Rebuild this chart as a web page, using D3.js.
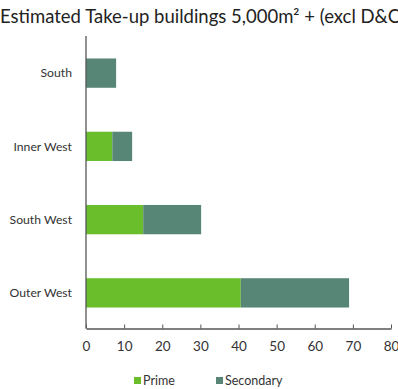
<!DOCTYPE html>
<html><head><meta charset="utf-8">
<script src="https://cdn.jsdelivr.net/npm/d3@7"></script>
<style>body{margin:0;background:#fff}svg{display:block}</style>
</head><body>
<script>
const title = "Estimated Take-up buildings 5,000m² + (excl D&C)";
const categories = ["South", "Inner West", "South West", "Outer West"];
const seriesNames = ["Prime", "Secondary"];
const prime = [0, 6.9, 15.0, 40.6];
const secondary = [7.9, 5.2, 15.2, 28.4];
const xTicks = [0, 10, 20, 30, 40, 50, 60, 70, 80];
const colors = ["#6abd2b", "#588676"];

const W = 398, H = 389;
const font = "Lato, sans-serif";
const svg = d3.select("body").append("svg").attr("width", W).attr("height", H);

svg.append("text").attr("x", 0).attr("y", 23)
  .attr("font-family", font).attr("font-size", 18.5).attr("fill", "#222")
  .text(title);

const x = d3.scaleLinear().domain([0, 80]).range([86, 391]);
const y = d3.scaleBand().domain(categories).range([36.5, 329.5]).paddingInner(0.6).paddingOuter(0.3);

const data = categories.map((c, i) => ({cat: c, Prime: prime[i], Secondary: secondary[i]}));
const stack = d3.stack().keys(seriesNames)(data);

svg.selectAll("g.s").data(stack).join("g").attr("fill", (d, i) => colors[i])
  .selectAll("rect").data(d => d).join("rect")
  .attr("x", d => x(d[0])).attr("width", d => x(d[1]) - x(d[0]))
  .attr("y", d => y(d.data.cat)).attr("height", y.bandwidth());

// y axis line
svg.append("line").attr("x1", 86).attr("x2", 86).attr("y1", 36).attr("y2", 328.5)
  .attr("stroke", "#555").attr("stroke-width", 1.3);

// category labels
svg.selectAll("text.cat").data(categories).join("text")
  .attr("x", 72).attr("y", d => y(d) + y.bandwidth() / 2).attr("dy", "0.35em")
  .attr("text-anchor", "end").attr("font-family", font).attr("font-size", 12.2).attr("fill", "#333")
  .text(d => d);

// x axis
const xAxis = d3.axisBottom(x).tickValues(xTicks).tickSizeInner(-4).tickSizeOuter(0).tickPadding(13);
const gx = svg.append("g").attr("transform", "translate(0,328.5)").call(xAxis);
gx.select(".domain").attr("stroke", "#555").attr("stroke-width", 1.3);
gx.selectAll(".tick line").attr("stroke", "#555");
gx.selectAll("text").attr("font-family", font).attr("font-size", 13.5).attr("fill", "#333");

// legend
const legX = [134, 216];
const lg = svg.selectAll("g.leg").data(seriesNames).join("g")
  .attr("transform", (d, i) => `translate(${legX[i]},377)`);
lg.append("rect").attr("width", 7).attr("height", 7).attr("fill", (d, i) => colors[i]);
lg.append("text").attr("x", 9).attr("y", 3.5).attr("dy", "0.35em")
  .attr("font-family", font).attr("font-size", 12.5).attr("fill", "#333").text(d => d);
</script>
</body></html>
